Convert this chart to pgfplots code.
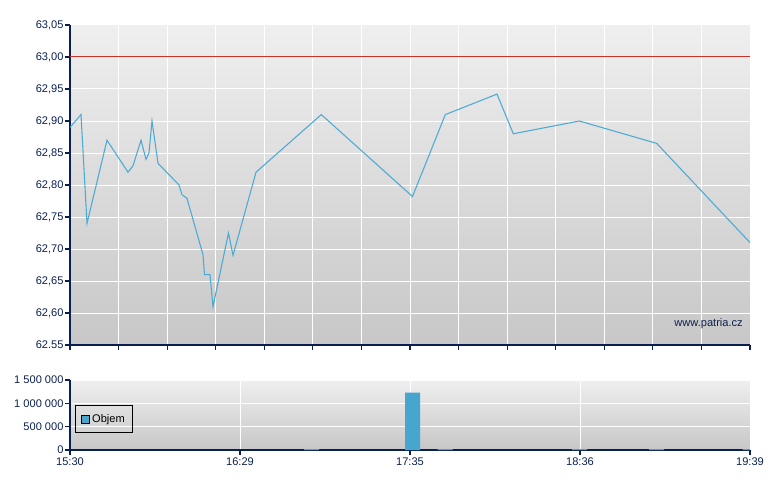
\documentclass[border=0pt]{standalone}
\usepackage{pgfplots}
\pgfplotsset{compat=1.18}
\usepackage{fontspec}
\setmainfont{Liberation Sans}
\definecolor{navy}{RGB}{10,32,80}
\definecolor{lineblue}{RGB}{75,170,212}
\definecolor{barblue}{RGB}{70,166,206}
\definecolor{refred}{RGB}{200,50,40}
\definecolor{bgtop}{RGB}{239,239,239}
\definecolor{bgbot}{RGB}{199,199,199}

\begin{document}
\begin{tikzpicture}[font=\fontsize{8.3}{10}\selectfont]
\pgfplotsset{
  base/.style={
    scale only axis, width=510pt,
    axis x line=bottom, axis y line=left,
    axis line style={-, navy, line width=0.8pt},
    tick align=outside, major tick length=3.5pt,
    tick style={navy, line width=0.8pt},
    grid=major, major grid style={white, line width=0.75pt},
    xmin=0, xmax=680,
    tick label style={navy, font=\fontsize{8.3}{10}\selectfont},
    /pgf/number format/assume math mode=true,
    scaled y ticks=false, scaled x ticks=false,
    yticklabel style={inner sep=1.2pt},
    xticklabel style={inner sep=2pt},
    axis background/.style={top color=bgtop, bottom color=bgbot},
  }
}
% price panel
\begin{axis}[base, at={(52.5pt,108.75pt)}, anchor=south west, height=240pt,
  ymin=62.55, ymax=63.05,
  xtick={0,48.57,97.14,145.71,194.29,242.86,291.43,340,388.57,437.14,485.71,534.29,582.86,631.43,680},
  xticklabels={},
  ytick={62.55,62.6,62.65,62.7,62.75,62.8,62.85,62.9,62.95,63,63.05},
  yticklabels={62.55,{62,60},{62,65},{62,70},{62,75},{62,80},{62,85},{62,90},{62,95},{63,00},{63,05}},
]
\addplot[refred, line width=0.75pt] coordinates {(0,63) (680,63)};
\addplot[lineblue, line width=0.8pt] coordinates {
(0,62.89) (11,62.91) (17,62.74) (37,62.87) (58,62.82) (63,62.83) (71,62.87)
(76,62.84) (79,62.85) (82,62.90) (88,62.834) (109,62.80) (112,62.785)
(117,62.779) (133,62.691) (134.5,62.66) (140,62.66) (143,62.61)
(158.5,62.725) (163,62.69) (186,62.82) (251.3,62.91) (342.5,62.782)
(375.3,62.91) (427,62.942) (443.3,62.88) (509.3,62.90) (586.7,62.865)
(680,62.71)};
\node[anchor=east, navy, inner sep=0pt, font=\fontsize{8.3}{10}\selectfont] at (axis cs:673,62.583) {www.patria.cz};
\end{axis}
% volume panel
\begin{axis}[base, at={(52.5pt,30pt)}, anchor=south west, height=52.5pt,
  ymin=0, ymax=1500000,
  xtick={0,170,340,510,680},
  xticklabels={15:30,16:29,17:35,18:36,19:39},
  ytick={0,500000,1000000,1500000},
  yticklabels={0,500 000,1 000 000,1 500 000},
  legend style={at={(0.0074,0.643)}, anchor=north west, draw=black, fill=none,
    line width=0.6pt, inner xsep=4pt, inner ysep=4.5pt,
    font=\fontsize{8.3}{10}\selectfont, text=black},
  legend cell align=left,
]
\addplot[ybar, fill=barblue, draw=none, bar width=11.25pt,
  legend image code/.code={\draw[fill=barblue,draw=black,line width=0.6pt] (0pt,-3pt) rectangle (6pt,3pt);}]
  coordinates {(241.5,20000) (342.5,1228000) (375,20000) (509.5,20000) (586.5,20000) (680,20000)};
\addlegendentry{Objem}
\end{axis}
\pgfresetboundingbox
\path[use as bounding box] (0,0) rectangle (585pt,367.5pt);
\end{tikzpicture}
\end{document}
